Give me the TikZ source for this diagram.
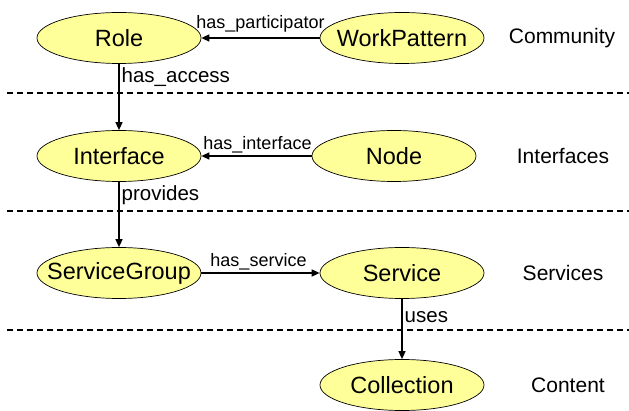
\documentclass[tikz,border=0pt]{standalone}
\usepackage{fontspec}
\setmainfont{Liberation Sans}
\usetikzlibrary{shapes.geometric,arrows.meta}
\definecolor{conceptfill}{RGB}{255,255,153}
\newcommand{\fixedw}[1]{\makebox[0pt]{#1}}
\tikzset{
  concept/.style={ellipse, draw=black, line width=0.7pt, fill=conceptfill,
    minimum width=164pt, minimum height=51pt, inner sep=0pt,
    font=\fontsize{23.5}{28}\selectfont},
  rel/.style={line width=1.4pt, -{Triangle[length=8pt,width=7pt]}},
  hlabel/.style={font=\fontsize{18}{21}\selectfont, inner sep=1pt},
  vlabel/.style={font=\fontsize{20.5}{24}\selectfont, inner sep=1pt, anchor=west},
  layer/.style={font=\fontsize{21}{25}\selectfont},
  divider/.style={line width=1.4pt, dash pattern=on 6pt off 4pt}
}
\begin{document}
\begin{tikzpicture}[x=1pt,y=-1pt]
  \useasboundingbox (0,0) rectangle (629,411);

  % layer dividers
  \draw[divider] (7,93) -- (629,93);
  \draw[divider] (7,211) -- (629,211);
  \draw[divider] (7,330) -- (629,330);

  % concepts (text boxed at zero width so every ellipse keeps the same size)
  \node[concept] (role) at (119,38) {\fixedw{Role}};
  \node[concept] (work) at (402,38) {\fixedw{WorkPattern}};
  \node[concept] (iface) at (119,156) {\fixedw{Interface}};
  \node[concept] (node) at (394,156) {\fixedw{Node}};
  \node[concept] (sgroup) at (119,273) {\fixedw{ServiceGroup}};
  \node[concept] (service) at (402,273) {\fixedw{Service}};
  \node[concept] (coll) at (402,385) {\fixedw{Collection}};

  % layer names
  \node[layer] (lcomm) at (562,38) {Community};
  \node[layer] (lint) at (563,156) {Interfaces};
  \node[layer] (lserv) at (563,273) {Services};
  \node[layer] (lcont) at (568,385) {Content};

  % relations
  \draw[rel] (work) -- (role)
    node[hlabel, midway, above=4pt, xshift=0pt] {has\_participator};
  \draw[rel] (role) -- (iface)
    node[vlabel, pos=0.2, xshift=1pt] {has\_access};
  \draw[rel] (node) -- (iface)
    node[hlabel, midway, above=1pt, xshift=1pt] {has\_interface};
  \draw[rel] (iface) -- (sgroup)
    node[vlabel, pos=0.2, xshift=1pt] {provides};
  \draw[rel] (sgroup) -- (service)
    node[hlabel, midway, above=1pt, xshift=-2pt] {has\_service};
  \draw[rel] (service) -- (coll)
    node[vlabel, pos=0.3, xshift=1pt] {uses};
\end{tikzpicture}
\end{document}
